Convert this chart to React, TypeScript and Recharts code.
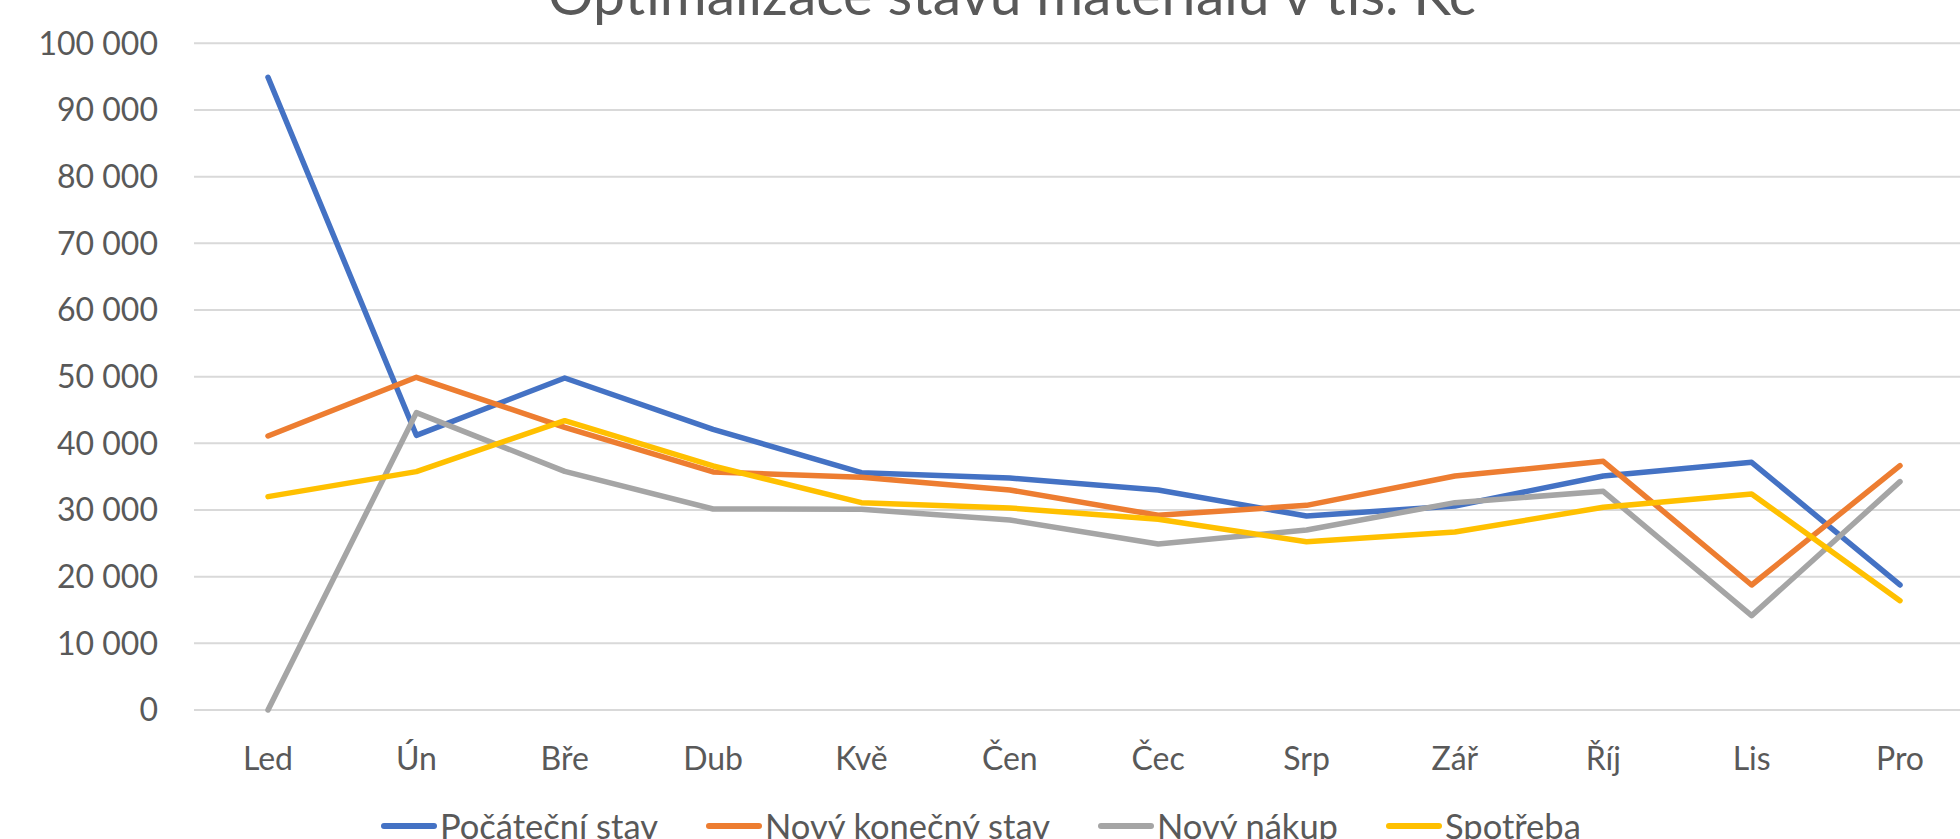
import React from 'react';
import { LineChart, Line, XAxis, YAxis, CartesianGrid } from 'recharts';

const months = ['Led', 'Ún', 'Bře', 'Dub', 'Kvě', 'Čen', 'Čec', 'Srp', 'Zář', 'Říj', 'Lis', 'Pro'];
const pocatecniStav = [94900, 41200, 49800, 42100, 35600, 34800, 33000, 29100, 30600, 35100, 37150, 18750];
const novyKonecnyStav = [41100, 49900, 42400, 35700, 34900, 33000, 29200, 30700, 35100, 37300, 18750, 36650];
const novyNakup = [0, 44600, 35800, 30150, 30100, 28500, 24900, 27000, 31100, 32800, 14150, 34250];
const spotreba = [32000, 35750, 43400, 36600, 31100, 30300, 28600, 25250, 26700, 30400, 32400, 16400];
const yTicks = [0, 10000, 20000, 30000, 40000, 50000, 60000, 70000, 80000, 90000, 100000];

const series = [
  { key: 'pocatecni', name: 'Počáteční stav', values: pocatecniStav, color: '#4472C4' },
  { key: 'konecny', name: 'Nový konečný stav', values: novyKonecnyStav, color: '#ED7D31' },
  { key: 'nakup', name: 'Nový nákup', values: novyNakup, color: '#A5A5A5' },
  { key: 'spotreba', name: 'Spotřeba', values: spotreba, color: '#FFC000' },
];

const data = months.map((m, i) => {
  const row: Record<string, string | number> = { month: m };
  series.forEach((s) => (row[s.key] = s.values[i]));
  return row;
});

const FONT = 'Lato, "Open Sans", sans-serif';
const TEXT = '#595959';

const fmt = (v: number) => String(v).replace(/\B(?=(\d{3})+(?!\d))/g, ' ');

export default function App() {
  return (
    <div
      style={{
        position: 'absolute',
        left: 0,
        top: 0,
        width: 1960,
        height: 839,
        overflow: 'hidden',
        background: '#fff',
        fontFamily: FONT,
      }}
    >
      <div
        style={{
          position: 'absolute',
          left: 1012,
          top: -35.5,
          transform: 'translateX(-50%)',
          whiteSpace: 'nowrap',
          fontSize: 57,
          lineHeight: '57px',
          color: TEXT,
        }}
      >
        Optimalizace stavu materiálu v tis. Kč
      </div>
      <LineChart
        width={2000}
        height={839}
        data={data}
        margin={{ top: 43.3, right: 26, left: 0, bottom: 69 }}
      >
        <CartesianGrid vertical={false} stroke="#d9d9d9" strokeWidth={2} />
        <XAxis
          dataKey="month"
          axisLine={false}
          tickLine={false}
          tickSize={0}
          tickMargin={37}
          height={60}
          padding={{ left: 74, right: 74 }}
          tick={{ fill: TEXT, fontSize: 32, fontFamily: FONT }}
        />
        <YAxis
          domain={[0, 100000]}
          ticks={yTicks}
          width={194}
          axisLine={false}
          tickLine={false}
          tickSize={0}
          tickMargin={36}
          tickFormatter={fmt}
          tick={{ fill: TEXT, fontSize: 32, fontFamily: FONT }}
        />
        {series.map((s) => (
          <Line
            key={s.key}
            dataKey={s.key}
            name={s.name}
            stroke={s.color}
            strokeWidth={5.5}
            strokeLinecap="round"
            strokeLinejoin="round"
            dot={false}
            activeDot={false}
            isAnimationActive={false}
          />
        ))}
      </LineChart>
      <div
        style={{
          position: 'absolute',
          left: 381,
          top: 809,
          display: 'flex',
          alignItems: 'center',
          gap: 48,
          whiteSpace: 'nowrap',
          fontSize: 34.5,
          lineHeight: '34px',
          color: TEXT,
        }}
      >
        {series.map((s) => (
          <div key={s.key} style={{ display: 'flex', alignItems: 'center' }}>
            <span
              style={{
                display: 'inline-block',
                width: 56,
                height: 5.5,
                borderRadius: 3,
                background: s.color,
                marginRight: 3,
              }}
            />
            <span>{s.name}</span>
          </div>
        ))}
      </div>
    </div>
  );
}
